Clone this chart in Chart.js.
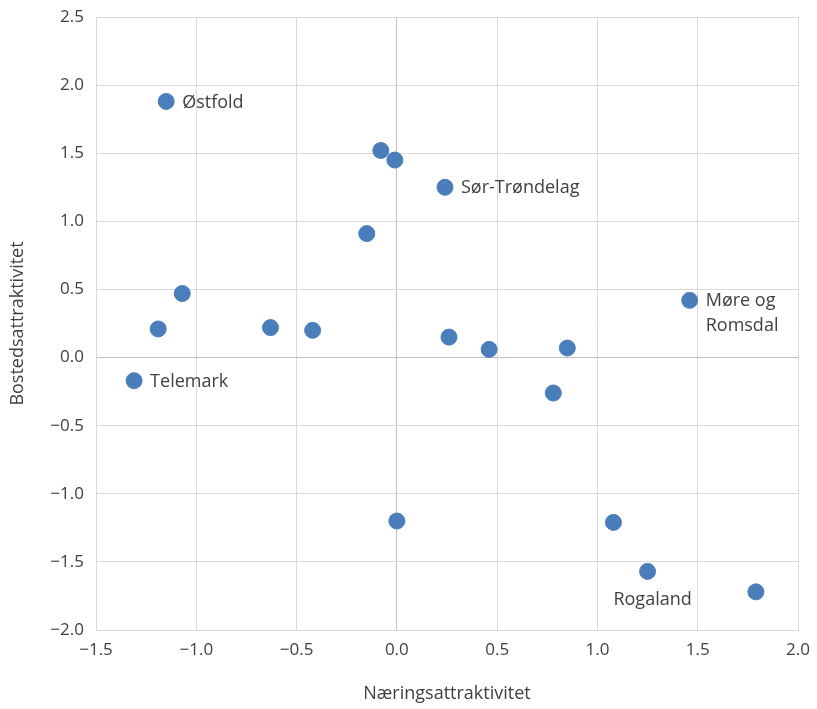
<!DOCTYPE html>
<html lang="no">
<head>
  <meta charset="UTF-8">
  <title>Næringsattraktivitet og bostedsattraktivitet</title>
  <script src="https://cdn.jsdelivr.net/npm/chart.js"></script>
  <style>
    html, body { margin: 0; padding: 0; background: #fff; }
    #wrap { width: 817px; height: 709px; position: relative; }
  </style>
</head>
<body>
  <div id="wrap">
    <canvas id="graphic"></canvas>
  </div>

  <script>
    // verdier lest av figuren
    const naering = [-1.15, -0.08, -0.01, 0.24, -0.15, -1.07, -1.19, -0.63, -0.42, 0.26, 0.46, 0.85, 1.46, -1.31, 0.78, 0.0, 1.08, 1.25, 1.79];
    const bosted = [1.88, 1.52, 1.45, 1.25, 0.91, 0.47, 0.21, 0.22, 0.20, 0.15, 0.06, 0.07, 0.42, -0.17, -0.26, -1.20, -1.21, -1.57, -1.72];
    const navn = ["Østfold", "", "", "Sør-Trøndelag", "", "", "", "", "", "", "", "", "Møre og\nRomsdal", "Telemark", "", "", "", "Rogaland", ""];

    const fontFamily = "'Open Sans', 'Noto Sans', sans-serif";
    const tekstFarge = '#404040';

    const punkter = naering.map((x, i) => ({ x: x, y: bosted[i] }));

    const fmt = v => Number(v).toFixed(1).replace('-', '\u2212');

    // tegner navn ved punktene
    const etiketter = {
      id: 'etiketter',
      afterDatasetsDraw(chart) {
        const ctx = chart.ctx;
        const meta = chart.getDatasetMeta(0);
        ctx.save();
        ctx.font = '18px ' + fontFamily;
        ctx.fillStyle = tekstFarge;
        meta.data.forEach((pt, i) => {
          const tekst = navn[i];
          if (!tekst) return;
          const linjer = tekst.split('\n');
          if (tekst === 'Rogaland') {
            ctx.textAlign = 'center';
            ctx.textBaseline = 'middle';
            ctx.fillText(tekst, pt.x + 5, pt.y + 28);
          } else {
            ctx.textAlign = 'left';
            ctx.textBaseline = 'middle';
            linjer.forEach((l, j) => ctx.fillText(l, pt.x + 16, pt.y + 1 + j * 25));
          }
        });
        ctx.restore();
      }
    };

    const gridFarge = c => (c.tick && c.tick.value === 0) ? '#bfbfbf' : '#d9d9d9';

    new Chart(document.getElementById('graphic'), {
      type: 'scatter',
      data: {
        datasets: [{
          data: punkter,
          backgroundColor: '#4a7ebb',
          borderColor: '#4a7ebb',
          pointRadius: 8,
          pointHoverRadius: 8
        }]
      },
      options: {
        responsive: true,
        maintainAspectRatio: false,
        animation: false,
        layout: { padding: { top: 17, right: 19, left: 0, bottom: 0 } },
        plugins: {
          legend: { display: false },
          tooltip: { enabled: false }
        },
        scales: {
          x: {
            type: 'linear',
            min: -1.5,
            max: 2.0,
            ticks: {
              stepSize: 0.5,
              padding: 10,
              color: tekstFarge,
              font: { family: fontFamily, size: 17 },
              callback: fmt
            },
            grid: { color: gridFarge, drawTicks: false, lineWidth: 1 },
            border: { color: '#d9d9d9' },
            title: {
              display: true,
              text: 'Næringsattraktivitet',
              color: tekstFarge,
              font: { family: fontFamily, size: 18 },
              padding: { top: 12, bottom: 4 }
            },
            afterFit(scale) {
              scale.height = 79;
              scale.paddingLeft = 0;
              scale.paddingRight = 0;
            }
          },
          y: {
            type: 'linear',
            min: -2.0,
            max: 2.5,
            ticks: {
              stepSize: 0.5,
              padding: 12,
              color: tekstFarge,
              font: { family: fontFamily, size: 17 },
              callback: fmt
            },
            grid: { color: gridFarge, drawTicks: false, lineWidth: 1 },
            border: { color: '#d9d9d9' },
            title: {
              display: true,
              text: 'Bostedsattraktivitet',
              color: tekstFarge,
              font: { family: fontFamily, size: 18 },
              padding: { top: 7, bottom: 0 }
            },
            afterFit(scale) {
              scale.width = 96;
              scale.paddingTop = 0;
              scale.paddingBottom = 0;
            }
          }
        }
      },
      plugins: [etiketter]
    });
  </script>
</body>
</html>
